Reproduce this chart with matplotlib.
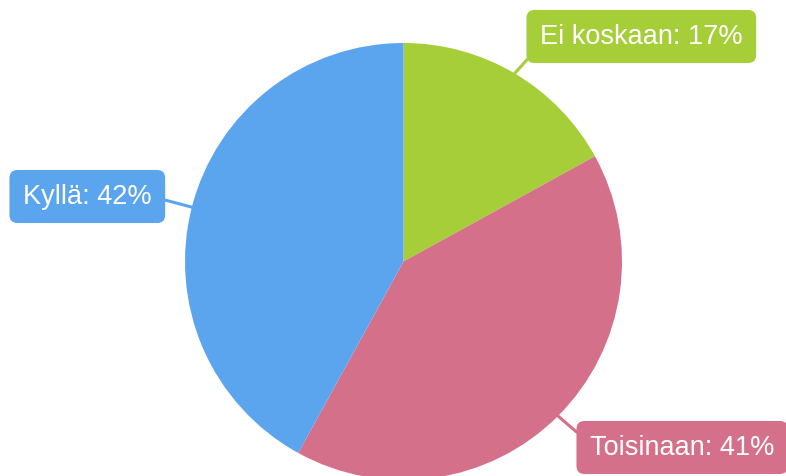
import numpy as np
import matplotlib
matplotlib.use("Agg")
import matplotlib.pyplot as plt

# Data
labels = ["Ei koskaan", "Toisinaan", "Kyllä"]
values = [17, 41, 42]
colors = ["#a6ce39", "#d4708a", "#5aa5ee"]

# Layout (pixel space, y pointing up)
W, H = 786, 477
center = (403.5, H - 262.5)
radius = 218.5
# text anchor of each label box, and where the connector meets the box
label_pos = [(540, H - 37.5), (590, H - 448.5), (23, H - 197.5)]
line_rel = [(0, 0.17), (0, 0.65), (1, 0.5)]

fig = plt.figure(figsize=(W / 100, H / 100), dpi=100)
ax = fig.add_axes([0, 0, 1, 1])

wedges, _ = ax.pie(values, colors=colors, startangle=90, counterclock=False,
                   center=center, radius=radius, frame=True,
                   wedgeprops=dict(linewidth=0))
ax.set_xlim(0, W)
ax.set_ylim(0, H)
ax.set_axis_off()

total = sum(values)
for w, lab, val, col, (tx, ty), rel in zip(wedges, labels, values, colors, label_pos, line_rel):
    # point on the rim at the middle of the slice
    ang = np.deg2rad((w.theta1 + w.theta2) / 2)
    ex = center[0] + radius * np.cos(ang)
    ey = center[1] + radius * np.sin(ang)
    ax.annotate(f"{lab}: {round(val / total * 100)}%", xy=(ex, ey), xytext=(tx, ty),
                ha="left", va="center", color="white", fontsize=19.5,
                family=["Liberation Sans", "DejaVu Sans"],
                bbox=dict(boxstyle="round,pad=0.5,rounding_size=0.3", fc=col, ec="none"),
                arrowprops=dict(arrowstyle="-", color=col, lw=2.2, shrinkA=0, shrinkB=0,
                                relpos=rel))

fig.savefig("out.png", dpi=100)
